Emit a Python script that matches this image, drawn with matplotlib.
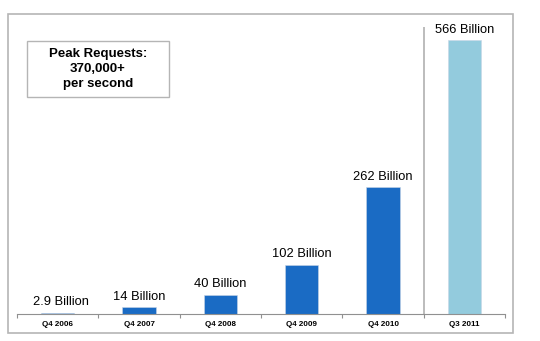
import matplotlib.pyplot as plt
from matplotlib.patches import Rectangle

quarters = ['Q4 2006', 'Q4 2007', 'Q4 2008', 'Q4 2009', 'Q4 2010', 'Q3 2011']
requests = [2.9, 14, 40, 102, 262, 566]
labels = ['2.9 Billion', '14 Billion', '40 Billion', '102 Billion', '262 Billion', '566 Billion']
colors = ['#1a6bc4'] * 5 + ['#93cbdd']

plt.rcParams['font.family'] = ['Liberation Sans', 'DejaVu Sans']

fig = plt.figure(figsize=(5.4, 3.41), dpi=100)

# outer frame
fig.patches.append(Rectangle((0.0148, 0.0235), 0.935, 0.935, transform=fig.transFigure,
                             fill=False, edgecolor='#b5b5b5', linewidth=1.2))
# peak requests box
fig.patches.append(Rectangle((0.05, 0.7155), 0.263, 0.164, transform=fig.transFigure,
                             fill=False, edgecolor='#b5b5b5', linewidth=1))

ax = fig.add_axes([0.0315, 0.0792, 0.9037, 0.8418])
x = range(len(quarters))
ax.bar(x, requests, width=0.41, color=colors, edgecolor='#c8d6e6', linewidth=0.4)
for i, v in enumerate(requests):
    ax.annotate(labels[i], (i, v), xytext=(2 if i == 0 else 0, 3), textcoords='offset points',
                ha='center', va='bottom', fontsize=9.3)

ax.set_xlim(-0.5, 5.5)
ax.set_ylim(0, 593)
ax.axvline(4.5, color='#b0b0b0', linewidth=1.2)

for s in ['top', 'right', 'left']:
    ax.spines[s].set_visible(False)
ax.spines['bottom'].set_color('#909090')
ax.set_yticks([])
ax.set_xticks([i - 0.5 for i in range(7)])
ax.set_xticklabels([])
ax.set_xticks(list(x), minor=True)
ax.set_xticklabels(quarters, minor=True, fontsize=5.8, fontweight='bold')
ax.tick_params(axis='x', which='major', length=3, color='#909090')
ax.tick_params(axis='x', which='minor', length=0, pad=5)

fig.text(0.1815, 0.7977, 'Peak Requests:\n370,000+\nper second', ha='center', va='center',
         fontsize=9.5, fontweight='bold', linespacing=1.35)

fig.savefig('out.png', dpi=100)
